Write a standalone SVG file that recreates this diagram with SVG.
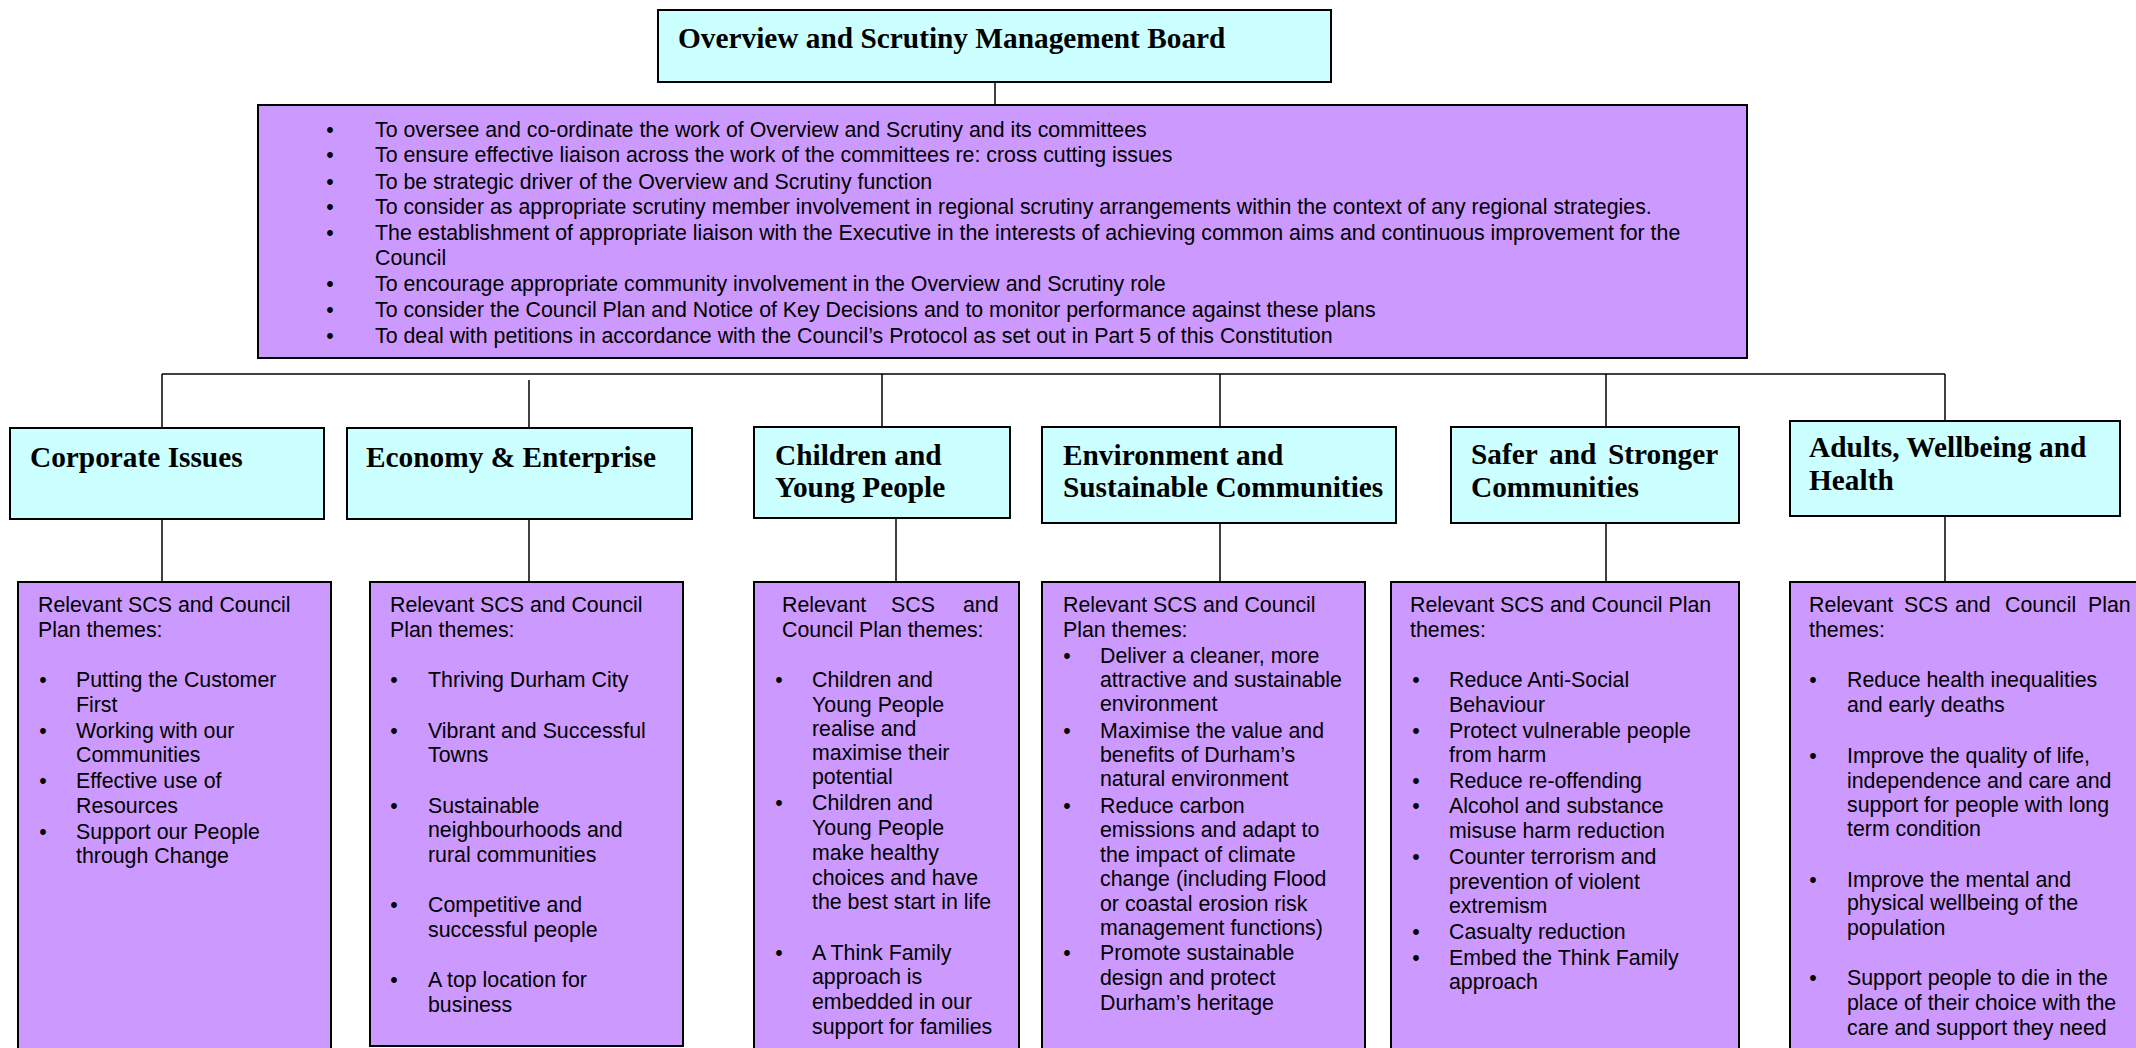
<svg xmlns="http://www.w3.org/2000/svg" width="2136" height="1048" viewBox="0 0 2136 1048">
<style>
.cyan{fill:#CCFFFF;stroke:#000;stroke-width:2}
.purp{fill:#CC99FF;stroke:#000;stroke-width:2}
.hd{font-family:"Liberation Serif","Times New Roman",serif;font-weight:bold;font-size:29.33px;fill:#000}
.tx{font-family:"Liberation Sans",Arial,sans-serif;font-size:21.33px;fill:#000}
.bl{font-family:"Liberation Sans",Arial,sans-serif;font-size:21.33px;fill:#000;text-anchor:middle}
.cn{stroke:#000;stroke-width:1.5;fill:none}
</style>
<rect width="2136" height="1048" fill="#fff"/>
<g id="connectors">
<line class="cn" x1="995" y1="82" x2="995" y2="105"/>
<line class="cn" x1="162" y1="374" x2="1945" y2="374"/>
<line class="cn" x1="162" y1="374" x2="162" y2="428"/>
<line class="cn" x1="529" y1="380" x2="529" y2="428"/>
<line class="cn" x1="882" y1="374" x2="882" y2="427"/>
<line class="cn" x1="1220" y1="374" x2="1220" y2="427"/>
<line class="cn" x1="1606" y1="374" x2="1606" y2="427"/>
<line class="cn" x1="1945" y1="374" x2="1945" y2="421"/>
<line class="cn" x1="162" y1="519" x2="162" y2="582"/>
<line class="cn" x1="529" y1="519" x2="529" y2="582"/>
<line class="cn" x1="896" y1="518" x2="896" y2="582"/>
<line class="cn" x1="1220" y1="523" x2="1220" y2="582"/>
<line class="cn" x1="1606" y1="523" x2="1606" y2="582"/>
<line class="cn" x1="1945" y1="516" x2="1945" y2="582"/>
</g>
<g id="board">
<rect class="cyan" x="658" y="10" width="673" height="72"/>
<text class="hd" x="678" y="48">Overview and Scrutiny Management Board</text>
</g>
<g id="board-remit">
<rect class="purp" x="258" y="105" width="1489" height="253"/>
<g class="bl">
<text x="330" y="137">•</text><text x="330" y="162">•</text><text x="330" y="189">•</text><text x="330" y="214">•</text><text x="330" y="240">•</text><text x="330" y="291">•</text><text x="330" y="317">•</text><text x="330" y="343">•</text>
</g>
<text class="tx" x="375" y="137">To oversee and co-ordinate the work of Overview and Scrutiny and its committees</text>
<text class="tx" x="375" y="162">To ensure effective liaison across the work of the committees re: cross cutting issues</text>
<text class="tx" x="375" y="189">To be strategic driver of the Overview and Scrutiny function</text>
<text class="tx" x="375" y="214">To consider as appropriate scrutiny member involvement in regional scrutiny arrangements within the context of any regional strategies.</text>
<text class="tx" x="375" y="240">The establishment of appropriate liaison with the Executive in the interests of achieving common aims and continuous improvement for the</text>
<text class="tx" x="375" y="265">Council</text>
<text class="tx" x="375" y="291">To encourage appropriate community involvement in the Overview and Scrutiny role</text>
<text class="tx" x="375" y="317">To consider the Council Plan and Notice of Key Decisions and to monitor performance against these plans</text>
<text class="tx" x="375" y="343">To deal with petitions in accordance with the Council’s Protocol as set out in Part 5 of this Constitution</text>
</g>
<g id="corporate">
<rect class="cyan" x="10" y="428" width="314" height="91"/>
<text class="hd" x="30" y="467">Corporate Issues</text>
</g>
<g id="economy">
<rect class="cyan" x="347" y="428" width="345" height="91"/>
<text class="hd" x="366" y="467">Economy &amp; Enterprise</text>
</g>
<g id="children">
<rect class="cyan" x="754" y="427" width="256" height="91"/>
<text class="hd" x="775" y="465">Children and</text>
<text class="hd" x="775" y="497">Young People</text>
</g>
<g id="environment">
<rect class="cyan" x="1042" y="427" width="354" height="96"/>
<text class="hd" x="1063" y="465">Environment and</text>
<text class="hd" x="1063" y="497">Sustainable Communities</text>
</g>
<g id="safer">
<rect class="cyan" x="1451" y="427" width="288" height="96"/>
<text class="hd" y="464"><tspan x="1471">Safer</tspan><tspan x="1549">and</tspan><tspan x="1608">Stronger</tspan></text>
<text class="hd" x="1471" y="497">Communities</text>
</g>
<g id="adults">
<rect class="cyan" x="1790" y="421" width="330" height="95"/>
<text class="hd" x="1809" y="457">Adults, Wellbeing and</text>
<text class="hd" x="1809" y="490">Health</text>
</g>
<g id="corporate-themes">
<rect class="purp" x="18" y="582" width="313" height="480"/>
<text class="tx" x="38" y="612">Relevant SCS and Council</text>
<text class="tx" x="38" y="637">Plan themes:</text>
<g class="bl"><text x="43" y="687">•</text><text x="43" y="738">•</text><text x="43" y="788">•</text><text x="43" y="839">•</text></g>
<text class="tx" x="76" y="687">Putting the Customer</text>
<text class="tx" x="76" y="712">First</text>
<text class="tx" x="76" y="738">Working with our</text>
<text class="tx" x="76" y="762">Communities</text>
<text class="tx" x="76" y="788">Effective use of</text>
<text class="tx" x="76" y="813">Resources</text>
<text class="tx" x="76" y="839">Support our People</text>
<text class="tx" x="76" y="863">through Change</text>
</g>
<g id="economy-themes">
<rect class="purp" x="370" y="582" width="313" height="464"/>
<text class="tx" x="390" y="612">Relevant SCS and Council</text>
<text class="tx" x="390" y="637">Plan themes:</text>
<g class="bl"><text x="394" y="687">•</text><text x="394" y="738">•</text><text x="394" y="813">•</text><text x="394" y="912">•</text><text x="394" y="987">•</text></g>
<text class="tx" x="428" y="687">Thriving Durham City</text>
<text class="tx" x="428" y="738">Vibrant and Successful</text>
<text class="tx" x="428" y="762">Towns</text>
<text class="tx" x="428" y="813">Sustainable</text>
<text class="tx" x="428" y="837">neighbourhoods and</text>
<text class="tx" x="428" y="862">rural communities</text>
<text class="tx" x="428" y="912">Competitive and</text>
<text class="tx" x="428" y="937">successful people</text>
<text class="tx" x="428" y="987">A top location for</text>
<text class="tx" x="428" y="1012">business</text>
</g>
<g id="children-themes">
<rect class="purp" x="754" y="582" width="265" height="480"/>
<text class="tx" y="612"><tspan x="782">Relevant</tspan><tspan x="891">SCS</tspan><tspan x="963">and</tspan></text>
<text class="tx" x="782" y="637">Council Plan themes:</text>
<g class="bl"><text x="779" y="687">•</text><text x="779" y="810">•</text><text x="779" y="960">•</text></g>
<text class="tx" x="812" y="687">Children and</text>
<text class="tx" x="812" y="712">Young People</text>
<text class="tx" x="812" y="736">realise and</text>
<text class="tx" x="812" y="760">maximise their</text>
<text class="tx" x="812" y="784">potential</text>
<text class="tx" x="812" y="810">Children and</text>
<text class="tx" x="812" y="835">Young People</text>
<text class="tx" x="812" y="860">make healthy</text>
<text class="tx" x="812" y="885">choices and have</text>
<text class="tx" x="812" y="909">the best start in life</text>
<text class="tx" x="812" y="960">A Think Family</text>
<text class="tx" x="812" y="984">approach is</text>
<text class="tx" x="812" y="1009">embedded in our</text>
<text class="tx" x="812" y="1034">support for families</text>
</g>
<g id="environment-themes">
<rect class="purp" x="1042" y="582" width="323" height="480"/>
<text class="tx" x="1063" y="612">Relevant SCS and Council</text>
<text class="tx" x="1063" y="637">Plan themes:</text>
<g class="bl"><text x="1067" y="663">•</text><text x="1067" y="738">•</text><text x="1067" y="813">•</text><text x="1067" y="960">•</text></g>
<text class="tx" x="1100" y="663">Deliver a cleaner, more</text>
<text class="tx" x="1100" y="687">attractive and sustainable</text>
<text class="tx" x="1100" y="711">environment</text>
<text class="tx" x="1100" y="738">Maximise the value and</text>
<text class="tx" x="1100" y="762">benefits of Durham’s</text>
<text class="tx" x="1100" y="786">natural environment</text>
<text class="tx" x="1100" y="813">Reduce carbon</text>
<text class="tx" x="1100" y="837">emissions and adapt to</text>
<text class="tx" x="1100" y="862">the impact of climate</text>
<text class="tx" x="1100" y="886">change (including Flood</text>
<text class="tx" x="1100" y="911">or coastal erosion risk</text>
<text class="tx" x="1100" y="935">management functions)</text>
<text class="tx" x="1100" y="960">Promote sustainable</text>
<text class="tx" x="1100" y="985">design and protect</text>
<text class="tx" x="1100" y="1010">Durham’s heritage</text>
</g>
<g id="safer-themes">
<rect class="purp" x="1391" y="582" width="348" height="480"/>
<text class="tx" x="1410" y="612">Relevant SCS and Council Plan</text>
<text class="tx" x="1410" y="637">themes:</text>
<g class="bl"><text x="1416" y="687">•</text><text x="1416" y="738">•</text><text x="1416" y="788">•</text><text x="1416" y="813">•</text><text x="1416" y="864">•</text><text x="1416" y="939">•</text><text x="1416" y="965">•</text></g>
<text class="tx" x="1449" y="687">Reduce Anti-Social</text>
<text class="tx" x="1449" y="712">Behaviour</text>
<text class="tx" x="1449" y="738">Protect vulnerable people</text>
<text class="tx" x="1449" y="762">from harm</text>
<text class="tx" x="1449" y="788">Reduce re-offending</text>
<text class="tx" x="1449" y="813">Alcohol and substance</text>
<text class="tx" x="1449" y="838">misuse harm reduction</text>
<text class="tx" x="1449" y="864">Counter terrorism and</text>
<text class="tx" x="1449" y="889">prevention of violent</text>
<text class="tx" x="1449" y="913">extremism</text>
<text class="tx" x="1449" y="939">Casualty reduction</text>
<text class="tx" x="1449" y="965">Embed the Think Family</text>
<text class="tx" x="1449" y="989">approach</text>
</g>
<g id="adults-themes">
<rect class="purp" x="1790" y="582" width="360" height="480"/>
<text class="tx" y="612"><tspan x="1809">Relevant</tspan><tspan x="1904">SCS</tspan><tspan x="1955">and</tspan><tspan x="2005">Council</tspan><tspan x="2088">Plan</tspan></text>
<text class="tx" x="1809" y="637">themes:</text>
<g class="bl"><text x="1813" y="687">•</text><text x="1813" y="763">•</text><text x="1813" y="887">•</text><text x="1813" y="985">•</text></g>
<text class="tx" x="1847" y="687">Reduce health inequalities</text>
<text class="tx" x="1847" y="712">and early deaths</text>
<text class="tx" x="1847" y="763">Improve the quality of life,</text>
<text class="tx" x="1847" y="788">independence and care and</text>
<text class="tx" x="1847" y="812">support for people with long</text>
<text class="tx" x="1847" y="836">term condition</text>
<text class="tx" x="1847" y="887">Improve the mental and</text>
<text class="tx" x="1847" y="910">physical wellbeing of the</text>
<text class="tx" x="1847" y="935">population</text>
<text class="tx" x="1847" y="985">Support people to die in the</text>
<text class="tx" x="1847" y="1010">place of their choice with the</text>
<text class="tx" x="1847" y="1035">care and support they need</text>
</g>
</svg>
